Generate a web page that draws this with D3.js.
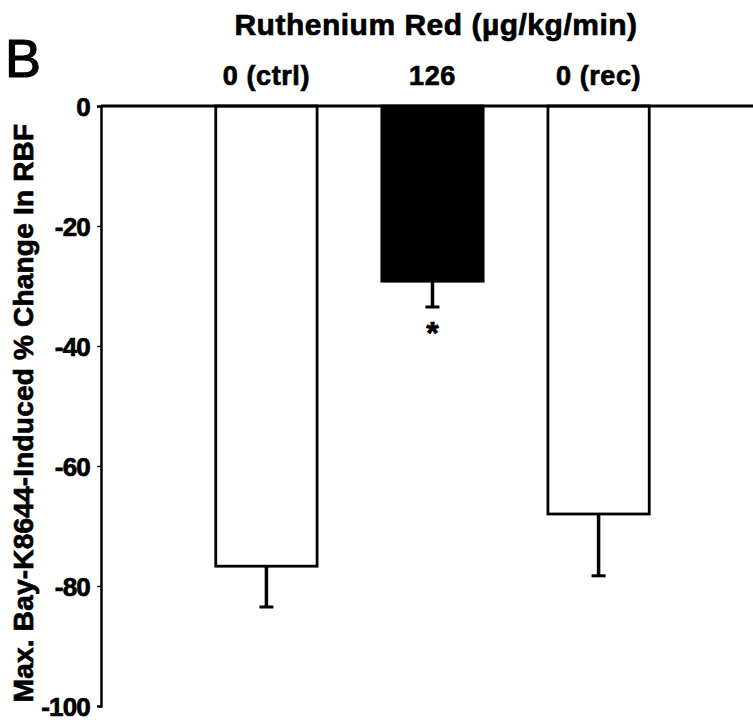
<!DOCTYPE html>
<html>
<head>
<meta charset="utf-8">
<script src="https://cdn.jsdelivr.net/npm/d3@7"></script>
<style>
  html, body { margin: 0; padding: 0; background: #fff; }
  svg { display: block; }
  text { font-family: "Liberation Sans", Arial, sans-serif; font-weight: bold; fill: #000; }
  .heavy { stroke: #000; stroke-width: 0.7px; }
</style>
</head>
<body>
<svg id="chart" width="753" height="723"></svg>
<script>
// Ruthenium Red dose groups and the mean / SEM of the Bay-K8644 response
const categories = ["0 (ctrl)", "126", "0 (rec)"];
const means = [-76.7, -29.2, -68.0];
const errors = [6.8, 4.3, 10.3];
const fills = ["#ffffff", "#000000", "#ffffff"];
const significant = [false, true, false];
const yTicks = [0, -20, -40, -60, -80, -100];

const svg = d3.select("#chart");
const axisX = 101;
const plotTop = 106, plotBottom = 706;

const y = d3.scaleLinear().domain([0, -100]).range([plotTop, plotBottom]);
const x = d3.scaleBand().domain(categories).range([151, 714]).paddingInner(0.39).paddingOuter(0.39);

// bars hang down from the zero line
svg.append("g").selectAll("rect")
  .data(categories)
  .join("rect")
  .attr("x", d => x(d))
  .attr("y", y(0))
  .attr("width", x.bandwidth())
  .attr("height", (d, i) => y(means[i]) - y(0))
  .attr("fill", (d, i) => fills[i])
  .attr("stroke", "#000")
  .attr("stroke-width", 2.8);

// one-sided error bars below each bar
const eb = svg.append("g").attr("stroke", "#000");
categories.forEach((c, i) => {
  const cx = x(c) + x.bandwidth() / 2;
  const y1 = y(means[i]);
  const y2 = y(means[i] - errors[i]);
  eb.append("line").attr("x1", cx).attr("x2", cx).attr("y1", y1).attr("y2", y2).attr("stroke-width", 3.5);
  eb.append("line").attr("x1", cx - 7).attr("x2", cx + 7).attr("y1", y2).attr("y2", y2).attr("stroke-width", 3);
  if (significant[i]) {
    svg.append("text").attr("class", "heavy").attr("x", cx).attr("y", y2 + 37)
      .attr("text-anchor", "middle").attr("font-size", 32).text("*");
  }
});

// zero line across the top
svg.append("line")
  .attr("x1", axisX).attr("x2", 753).attr("y1", y(0)).attr("y2", y(0))
  .attr("stroke", "#000").attr("stroke-width", 3);

// y axis
const yAxis = svg.append("g").attr("transform", `translate(${axisX},0)`)
  .call(d3.axisLeft(y).tickValues(yTicks).tickSize(4).tickPadding(7).tickFormat(d => String(d)));
yAxis.select(".domain").attr("stroke-width", 2.5);
yAxis.selectAll(".tick line").attr("stroke-width", 1.5);
yAxis.selectAll(".tick text").attr("font-size", 26).attr("dy", "0.36em")
  .attr("class", "heavy").attr("letter-spacing", -0.8)
  .style("font-family", "'Liberation Sans', Arial, sans-serif").style("font-weight", "bold");

// category labels above the bars
svg.append("g").selectAll("text")
  .data(categories)
  .join("text")
  .attr("class", "heavy")
  .attr("x", d => x(d) + x.bandwidth() / 2)
  .attr("y", 85)
  .attr("text-anchor", "middle")
  .attr("font-size", 27)
  .attr("letter-spacing", 0.6)
  .text(d => d);

// top title
svg.append("text").attr("class", "heavy").attr("x", 436).attr("y", 35).attr("text-anchor", "middle")
  .attr("font-size", 30).attr("letter-spacing", 0.5)
  .text("Ruthenium Red (\u00b5g/kg/min)");

// panel letter
svg.append("text").attr("x", 5).attr("y", 77).attr("font-size", 54)
  .attr("stroke", "#000").attr("stroke-width", 1.2)
  .style("font-weight", "normal").text("B");

// y axis title
svg.append("text")
  .attr("class", "heavy")
  .attr("transform", `translate(33,413) rotate(-90)`)
  .attr("text-anchor", "middle")
  .attr("font-size", 28)
  .attr("letter-spacing", 0.2)
  .text("Max. Bay-K8644-Induced % Change In RBF");
</script>
</body>
</html>
